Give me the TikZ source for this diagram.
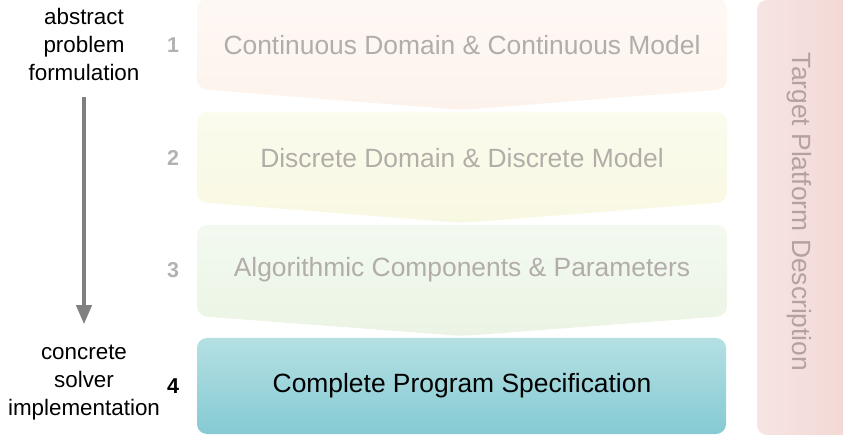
\documentclass[tikz,border=0pt]{standalone}
\usepackage{fontspec}
\setmainfont{Liberation Sans}
\usetikzlibrary{positioning,calc,arrows.meta}

\definecolor{contA}{HTML}{FEF8F4}
\definecolor{contB}{HTML}{FDF3EC}
\definecolor{discA}{HTML}{FBFBEE}
\definecolor{discB}{HTML}{F8F8E2}
\definecolor{algoA}{HTML}{F3F9F0}
\definecolor{algoB}{HTML}{EBF4E4}
\definecolor{specA}{HTML}{B5E0E3}
\definecolor{specB}{HTML}{85CAD3}
\definecolor{targA}{HTML}{F6E5E3}
\definecolor{targB}{HTML}{F2D6D2}
\definecolor{fadedtext}{HTML}{B2ADA8}
\definecolor{targtext}{HTML}{B5A19E}
\definecolor{numgray}{HTML}{B2B2B2}
\definecolor{arrowgray}{HTML}{808080}

\tikzset{
  stage/.style={rounded corners=10pt},
  stagetext/.style={font=\fontsize{26.4}{31}\selectfont, text=fadedtext},
  stagenum/.style={font=\fontsize{21.5}{25}\selectfont\bfseries, text=numgray},
  sidelabel/.style={font=\fontsize{22.4}{28}\selectfont, align=center, inner sep=1pt},
  flow/.style={line width=4pt, draw=arrowgray, -{Triangle[width=15pt,length=19pt]}},
}

% chevron: #1 top, #2 bottom of the straight part, #3 tip
\newcommand{\chevron}[4][]{%
  \path[stage,#1] (197,#2) -- (727,#2) -- (727,#3) -- (462,#4) -- (197,#3) -- cycle;}

\begin{document}
\begin{tikzpicture}[x=1pt, y=-1pt]
  \useasboundingbox (0,0) rectangle (843,435);

  % refinement stages
  \chevron[top color=contA, bottom color=contB]{-1}{89}{110}
  \chevron[top color=discA, bottom color=discB]{112}{202}{223}
  \chevron[top color=algoA, bottom color=algoB]{225}{316}{336}
  \path[stage, top color=specA, bottom color=specB] (197,338) rectangle (726,434);

  % platform description bar
  \path[stage, left color=targA, right color=targB] (757,0) rectangle (860,435);
  \node[stagetext, text=targtext, rotate=-90] (target) at (799,212) {Target Platform Description};

  \node[stagetext] (cont) at (462,45) {Continuous Domain \& Continuous Model};
  \node[stagetext] (disc) at (462,158) {Discrete Domain \& Discrete Model};
  \node[stagetext] (algo) at (462,270) {Algorithmic Components \& Parameters};
  \node[stagetext, text=black] (spec) at (462,386) {Complete Program Specification};

  \node[stagenum] (n1) at (173,45) {1};
  \node[stagenum] (n2) at (173,158) {2};
  \node[stagenum] (n3) at (173,270) {3};
  \node[stagenum, text=black] (n4) at (173,386) {4};

  \node[sidelabel] (abstract) at (84,44) {abstract\\problem\\formulation};
  \node[sidelabel] (concrete) at (84,383) {concrete\\solver\\implementation};
  \draw[flow, shorten <=16pt, shorten >=20pt] (abstract) -- (concrete);
\end{tikzpicture}
\end{document}
